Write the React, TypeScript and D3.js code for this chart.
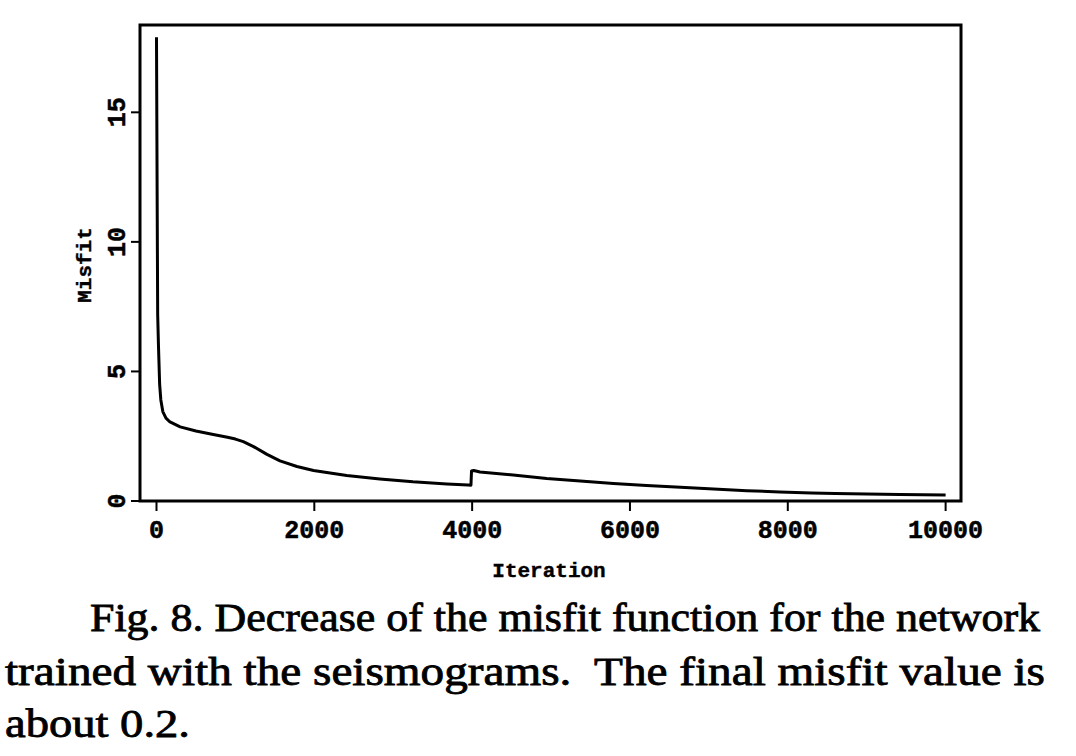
import React from "react";
import * as d3 from "d3";

const iterations = [0, 8, 15, 25, 40, 55, 80, 120, 171, 300, 500, 720, 900, 1000, 1100, 1230, 1400, 1565, 1780, 1990, 2410, 2830, 3250, 3680, 3950, 3985, 3992, 4020, 4100, 4520, 4945, 5370, 5790, 6210, 6640, 7060, 7480, 7900, 8300, 8600, 9000, 9420, 10000];
const misfit = [17.9, 12, 7.2, 6.0, 4.5, 3.9, 3.45, 3.2, 3.05, 2.86, 2.7, 2.57, 2.46, 2.39, 2.29, 2.1, 1.8, 1.55, 1.33, 1.18, 0.98, 0.85, 0.74, 0.66, 0.62, 0.61, 1.16, 1.18, 1.12, 1.0, 0.87, 0.77, 0.68, 0.6, 0.53, 0.46, 0.4, 0.35, 0.31, 0.29, 0.27, 0.25, 0.23];
const xTicks = [0, 2000, 4000, 6000, 8000, 10000];
const yTicks = [0, 5, 10, 15];
const xLabel = "Iteration";
const yLabel = "Misfit";
const captionLines = [
  "Fig. 8. Decrease of the misfit function for the network",
  "trained with the seismograms.  The final misfit value is",
  "about 0.2.",
];

export default function App() {
  const left = 140, right = 961, top = 25, bottom = 501;
  const x = d3.scaleLinear().domain([-209, 10195]).range([left, right]);
  const y = d3.scaleLinear().domain([0, 18.37]).range([bottom, top]);
  const data = iterations.map((it, i) => [it, misfit[i]] as [number, number]);
  const line = d3.line<[number, number]>().x(d => x(d[0])).y(d => y(d[1])).curve(d3.curveLinear);
  const mono = "'Liberation Mono', 'DejaVu Sans Mono', monospace";
  const serif = "'Liberation Serif', 'DejaVu Serif', serif";
  return (
    <svg width={1076} height={756} style={{ position: "absolute", left: 0, top: 0, background: "#fff" }}>
      <rect x={0} y={0} width={1076} height={756} fill="#fff" />
      <rect x={left} y={top} width={right - left} height={bottom - top} fill="none" stroke="#000" strokeWidth={3} />
      <path d={line(data) || ""} fill="none" stroke="#000" strokeWidth={3} strokeLinejoin="round" />
      {xTicks.map(t => (
        <g key={"x" + t}>
          <line x1={x(t)} x2={x(t)} y1={bottom} y2={bottom + 10} stroke="#000" strokeWidth={2} />
          <text x={x(t)} y={538} textAnchor="middle" fontFamily={mono} fontWeight="bold" fontSize={25} stroke="#000" strokeWidth={0.5}>{t}</text>
        </g>
      ))}
      {yTicks.map(t => (
        <g key={"y" + t}>
          <line x1={left} x2={left - 9} y1={y(t)} y2={y(t)} stroke="#000" strokeWidth={2} />
          <text transform={`translate(125,${y(t)}) rotate(-90)`} textAnchor="middle" fontFamily={mono} fontWeight="bold" fontSize={25} stroke="#000" strokeWidth={0.5}>{t}</text>
        </g>
      ))}
      <text x={549} y={577} textAnchor="middle" fontFamily={mono} fontWeight="bold" fontSize={21} stroke="#000" strokeWidth={0.4}>{xLabel}</text>
      <text transform={`translate(91,265) rotate(-90)`} textAnchor="middle" fontFamily={mono} fontWeight="bold" fontSize={21} stroke="#000" strokeWidth={0.4}>{yLabel}</text>
      <text x={90} y={631} fontFamily={serif} fontSize={39} stroke="#000" strokeWidth={0.8} textLength={950} lengthAdjust="spacingAndGlyphs">{captionLines[0]}</text>
      <text x={5} y={685} fontFamily={serif} fontSize={39} stroke="#000" strokeWidth={0.8} textLength={1040} lengthAdjust="spacingAndGlyphs" style={{ whiteSpace: "pre" }}>{captionLines[1]}</text>
      <text x={5} y={737} fontFamily={serif} fontSize={39} stroke="#000" strokeWidth={0.8} textLength={185} lengthAdjust="spacingAndGlyphs">{captionLines[2]}</text>
    </svg>
  );
}
